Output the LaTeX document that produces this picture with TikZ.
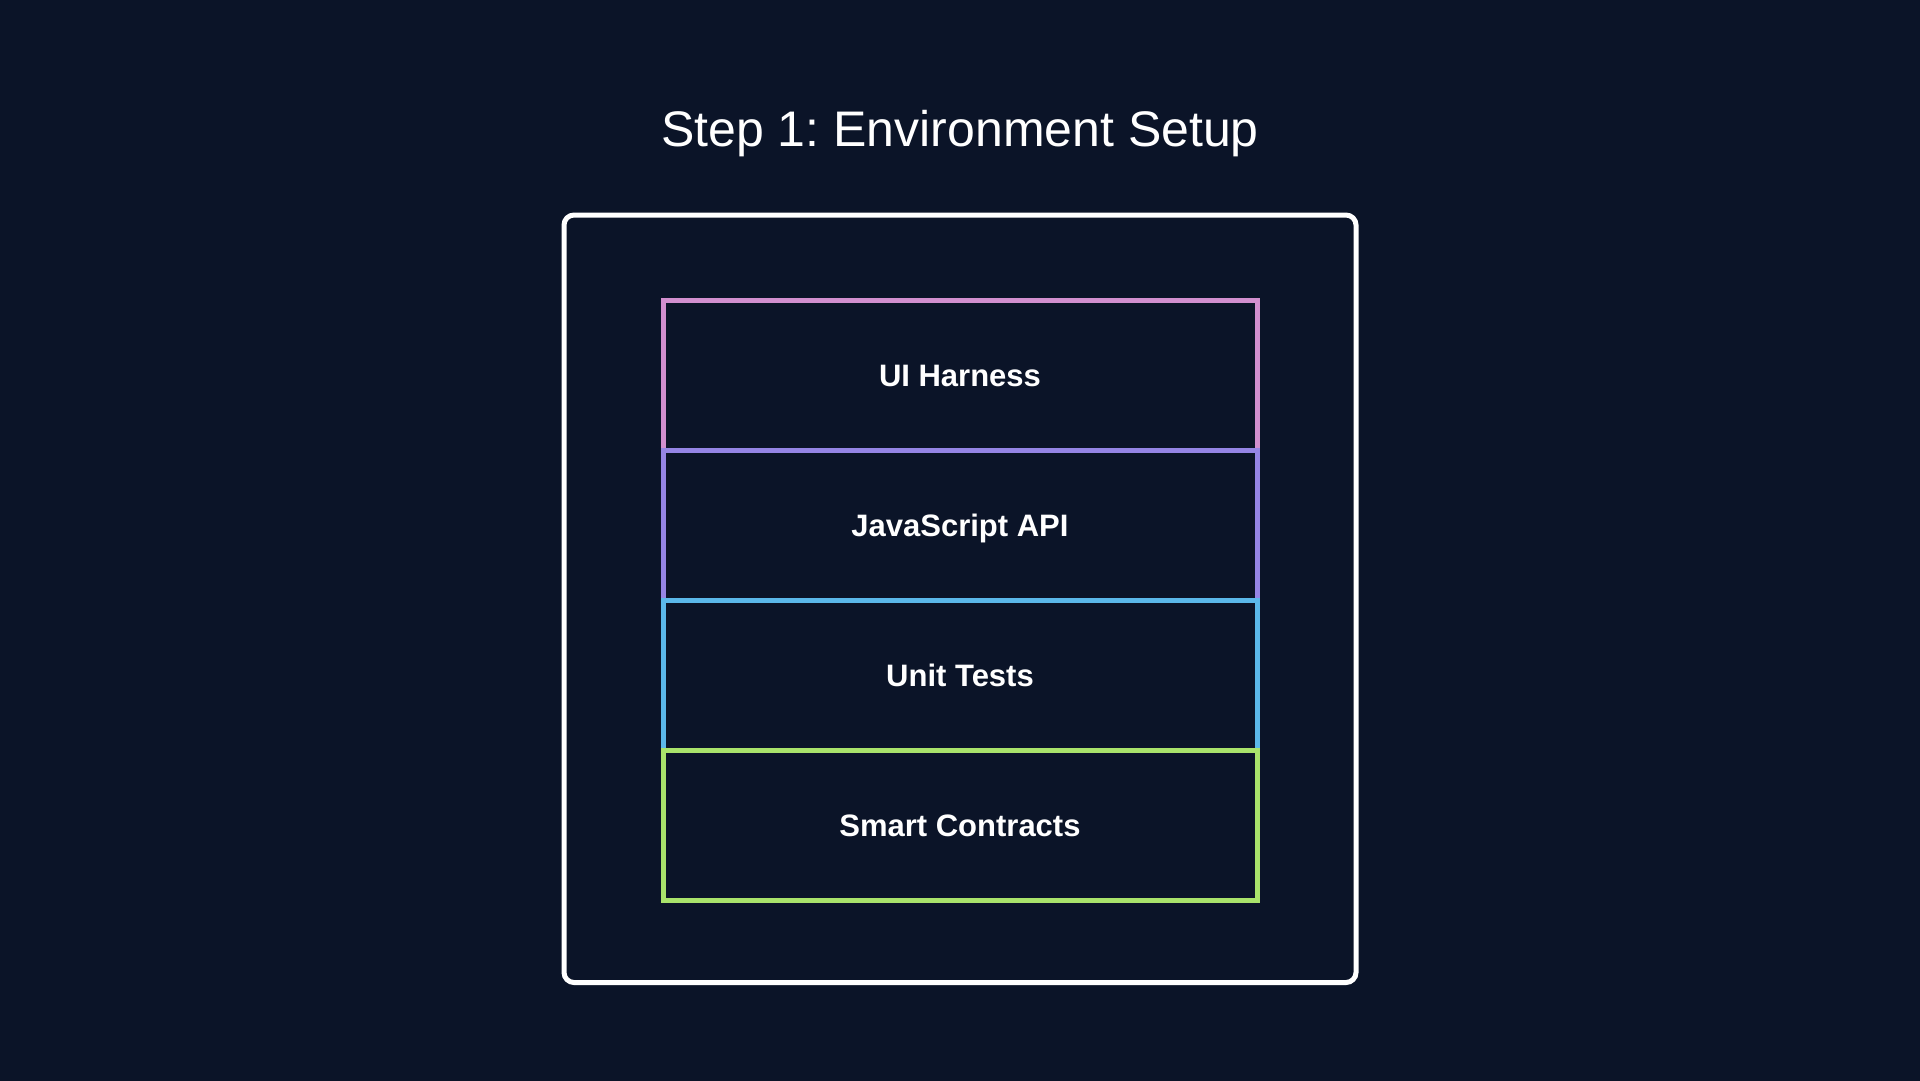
\documentclass[tikz,border=0pt]{standalone}
\usepackage{fontspec}
\setmainfont{Liberation Sans}
\usepackage{tikz}
\frenchspacing
\definecolor{bgnavy}{HTML}{0B1428}
\definecolor{uipink}{HTML}{D28FCF}
\definecolor{apipurple}{HTML}{9585E5}
\definecolor{testblue}{HTML}{5BB8EA}
\definecolor{contractgreen}{HTML}{A9E36B}
\begin{document}
\begin{tikzpicture}[x=1pt, y=-1pt, line width=5pt, every node/.style={text=white}, layer/.style={draw, rectangle, minimum width=594pt, minimum height=150pt, text height=22pt, text depth=0pt, font=\fontsize{31}{37}\selectfont\bfseries}]
\useasboundingbox (0,0) rectangle (1920,1080);
\fill[bgnavy] (-5,-5) rectangle (1925,1085);
\node (title) at (960,146) [anchor=base, font=\fontsize{50}{60}\selectfont] {Step 1: Environment Setup};
\node (frame) at (960,598.75) [draw=white, minimum width=792pt, minimum height=767.5pt, rounded corners=10pt] {};
\node (0) at (960,375) [layer, draw=uipink] {UI Harness};
\node (1) at (960,525) [layer, draw=apipurple] {JavaScript API};
\node (2) at (960,675) [layer, draw=testblue] {Unit Tests};
\node (3) at (960,825) [layer, draw=contractgreen] {Smart Contracts};
\end{tikzpicture}
\end{document}
